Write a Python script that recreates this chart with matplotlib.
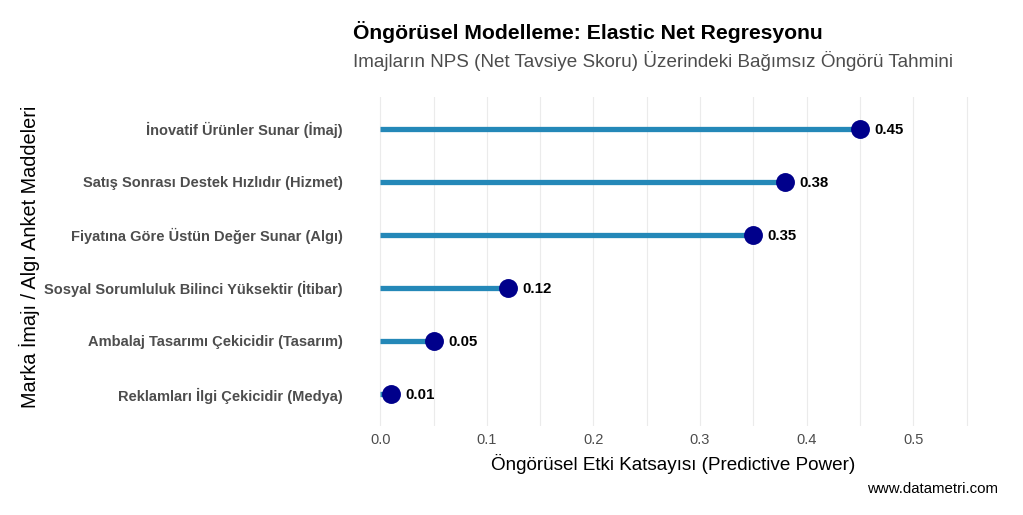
import matplotlib
matplotlib.use("Agg")
import matplotlib.pyplot as plt
from matplotlib.ticker import MultipleLocator

plt.rcParams["font.family"] = ["Liberation Sans", "DejaVu Sans"]

# data (bottom -> top)
items = [
    "Reklamları İlgi Çekicidir (Medya)",
    "Ambalaj Tasarımı Çekicidir (Tasarım)",
    "Sosyal Sorumluluk Bilinci Yüksektir (İtibar)",
    "Fiyatına Göre Üstün Değer Sunar (Algı)",
    "Satış Sonrası Destek Hızlıdır (Hizmet)",
    "İnovatif Ürünler Sunar (İmaj)",
]
coefs = [0.01, 0.05, 0.12, 0.35, 0.38, 0.45]
x_ticks = [0.0, 0.1, 0.2, 0.3, 0.4, 0.5]

SEG_COL = "#2488B8"
DOT_COL = "#00008B"

fig = plt.figure(figsize=(10.23, 5.15), dpi=100)
ax = fig.add_axes([0.343, 0.173, 0.6305, 0.639])

y = list(range(len(items)))
ax.hlines(y, 0, coefs, color=SEG_COL, lw=3.8, zorder=2)
ax.scatter(coefs, y, s=185, color=DOT_COL, zorder=3, linewidths=0)
for yi, v in zip(y, coefs):
    ax.text(v + 0.0135, yi - 0.02, f"{v:.2f}", ha="left", va="center",
            fontsize=10.8, fontweight="bold", color="black", zorder=4)

ax.set_xlim(-0.0275, 0.5775)
ax.set_ylim(-0.6, len(items) - 0.4)
ax.set_yticks(y)
ax.set_yticklabels(items, fontsize=10.5, fontweight="bold", color="#4D4D4D")
ax.set_xticks(x_ticks)
ax.set_xticklabels([f"{t:.1f}" for t in x_ticks], fontsize=10.5, color="#4D4D4D")
ax.xaxis.set_minor_locator(MultipleLocator(0.05))
ax.tick_params(axis="both", which="both", length=0)
ax.tick_params(axis="x", pad=5)
ax.tick_params(axis="y", pad=6)
ax.grid(axis="x", which="both", color="#EBEBEB", lw=0.8, zorder=0)
ax.set_axisbelow(True)
for s in ax.spines.values():
    s.set_visible(False)

ax.set_xlabel("Öngörüsel Etki Katsayısı (Predictive Power)", fontsize=13.6, labelpad=5)
ax.set_ylabel("Marka İmajı / Algı Anket Maddeleri", fontsize=14.3)
ax.yaxis.set_label_coords(-0.482, 0.515)

fig.text(353 / 1023, 1 - 32 / 515, "Öngörüsel Modelleme: Elastic Net Regresyonu",
         fontsize=15.2, fontweight="bold", ha="left", va="center")
fig.text(353 / 1023, 1 - 61 / 515,
         "Imajların NPS (Net Tavsiye Skoru) Üzerindeki Bağımsız Öngörü Tahmini",
         fontsize=13.6, color="#4D4D4D", ha="left", va="center")
fig.text(998 / 1023, 1 - 489 / 515, "www.datametri.com", fontsize=10.8,
         ha="right", va="center")

fig.savefig("out.png", dpi=100)
